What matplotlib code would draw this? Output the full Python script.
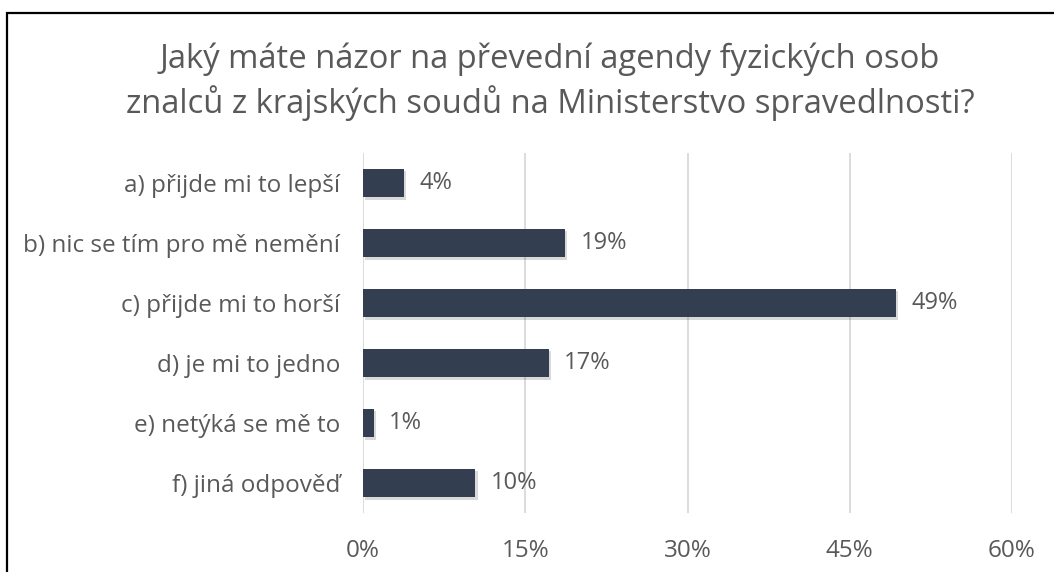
import matplotlib.pyplot as plt
import matplotlib.patheffects as pe
from matplotlib.patches import Rectangle

categories = ["a) přijde mi to lepší", "b) nic se tím pro mě nemění", "c) přijde mi to horší",
              "d) je mi to jedno", "e) netýká se mě to", "f) jiná odpověď"]
values = [3.8, 18.7, 49.3, 17.2, 1.0, 10.4]
ticks = [0, 15, 30, 45, 60]
title = "Jaký máte názor na převední agendy fyzických osob\nznalců z krajských soudů na Ministerstvo spravedlnosti?"

plt.rcParams['font.family'] = ['Open Sans', 'DejaVu Sans']
txt = "#595959"
W, H = 1054, 572

fig = plt.figure(figsize=(W / 100, H / 100), dpi=100)
ax = fig.add_axes([363 / W, 1 - 513 / H, (1012 - 363) / W, (513 - 153) / H])

y = list(range(len(categories)))
bars = ax.barh(y, values, height=0.48, color="#333F50", zorder=3)
for b in bars:
    b.set_path_effects([pe.SimplePatchShadow(offset=(1.5, -2), shadow_rgbFace="black", alpha=0.15), pe.Normal()])

for yi, v in zip(y, values):
    ax.text(v + 1.4, yi, f"{v:.0f}%", va="center", ha="left", fontsize=17, color=txt)

ax.set_xlim(0, 60)
ax.set_ylim(len(categories) - 0.5, -0.5)
ax.set_xticks(ticks)
ax.set_xticklabels([f"{t}%" for t in ticks])
ax.set_yticks(y)
ax.set_yticklabels(categories)
ax.tick_params(axis="both", length=0, labelsize=17.5, labelcolor=txt)
ax.tick_params(axis="y", pad=16.5)
ax.tick_params(axis="x", pad=19)
ax.grid(axis="x", color="#D9D9D9", linewidth=1.3, zorder=0)
for s in ax.spines.values():
    s.set_visible(False)

fig.text(550 / W, 1 - 82 / H, title, ha="center", va="center", fontsize=23.6, color=txt, linespacing=1.32)

# frame runs off the right and bottom edges
fig.patches.append(Rectangle((7 / W, -0.1), 1.2, 1.1 - 13 / H, transform=fig.transFigure,
                             fill=False, edgecolor="black", linewidth=1.6))

fig.savefig("out.png", dpi=100)
